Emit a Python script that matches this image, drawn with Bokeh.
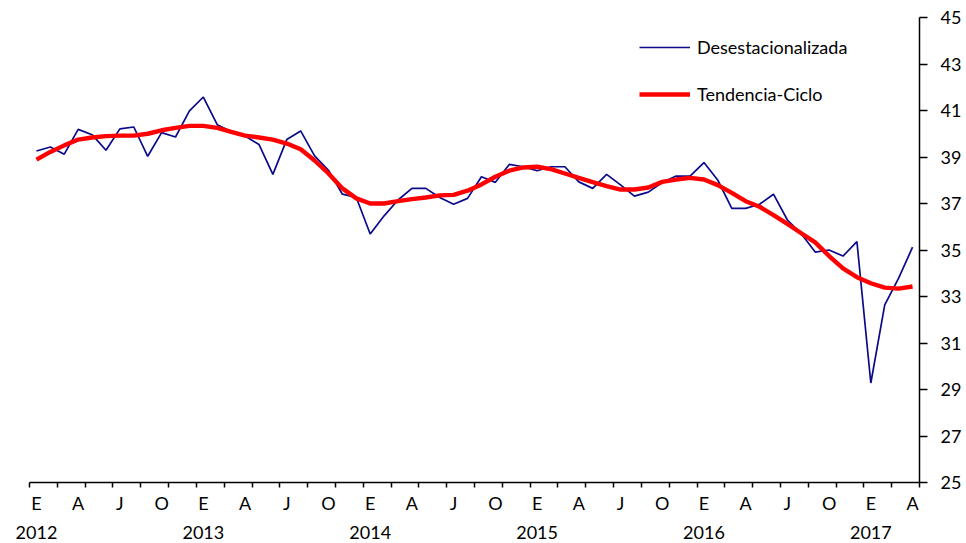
from bokeh.plotting import figure
from bokeh.models import (ColumnDataSource, Range1d, LinearAxis, FixedTicker,
                          Legend, LegendItem)
from bokeh.embed import file_html
from bokeh.resources import INLINE

# mensual, enero 2012 - abril 2017
years = [2012, 2013, 2014, 2015, 2016, 2017]
month_letters = ["E", "A", "J", "O"]

desestacionalizada = [
    39.26, 39.43, 39.12, 40.19, 39.96, 39.29, 40.21, 40.29, 39.03, 40.05, 39.86, 40.98,
    41.58, 40.39, 40.10, 39.90, 39.54, 38.25, 39.75, 40.12, 39.05, 38.43, 37.40, 37.26,
    35.69, 36.47, 37.15, 37.65, 37.65, 37.26, 36.97, 37.22, 38.15, 37.91, 38.68, 38.58,
    38.41, 38.58, 38.58, 37.93, 37.65, 38.25, 37.80, 37.32, 37.49, 37.90, 38.18, 38.18,
    38.76, 38.00, 36.79, 36.79, 36.97, 37.40, 36.29, 35.70, 34.91, 35.00, 34.74, 35.36,
    29.28, 32.64, 33.79, 35.12,
]
tendencia_ciclo = [
    38.89, 39.22, 39.50, 39.75, 39.84, 39.90, 39.92, 39.92, 40.00, 40.15, 40.25, 40.34,
    40.34, 40.25, 40.08, 39.92, 39.84, 39.75, 39.58, 39.33, 38.85, 38.29, 37.65, 37.22,
    37.00, 37.00, 37.10, 37.19, 37.26, 37.35, 37.37, 37.55, 37.82, 38.15, 38.41, 38.55,
    38.58, 38.48, 38.29, 38.10, 37.92, 37.75, 37.60, 37.60, 37.69, 37.93, 38.03, 38.10,
    38.03, 37.79, 37.46, 37.10, 36.86, 36.50, 36.12, 35.72, 35.33, 34.74, 34.21, 33.83,
    33.57, 33.38, 33.34, 33.43,
]

FONT = "Lato"
FSIZE = "18px"
n = len(desestacionalizada)
idx = list(range(n))
source = ColumnDataSource(data={"i": idx, "d": desestacionalizada, "t": tendencia_ciclo})

p = figure(width=964, height=541, output_backend="svg", toolbar_location=None,
           x_range=Range1d(-0.5, n - 0.5), y_range=Range1d(25, 45),
           x_axis_location=None, y_axis_location="right",
           min_border_left=29, min_border_right=44, min_border_top=17, min_border_bottom=58)
p.outline_line_color = None
p.xgrid.grid_line_color = None
p.ygrid.grid_line_color = None
p.background_fill_color = "white"
p.border_fill_color = "white"

r_d = p.line("i", "d", source=source, line_color="#0a0a8a", line_width=1.7)
r_t = p.line("i", "t", source=source, line_color="#ff0000", line_width=4.4)

# eje Y a la derecha
ya = p.yaxis[0]
ya.ticker = FixedTicker(ticks=list(range(25, 46, 2)))
ya.minor_tick_line_color = None
ya.major_tick_out = 8
ya.major_tick_in = 0
ya.axis_line_width = 1.5
ya.major_tick_line_width = 1.5
ya.axis_line_color = "black"
ya.major_label_text_font = FONT
ya.major_label_text_font_size = FSIZE
ya.major_label_text_color = "black"
ya.major_label_standoff = 13

# eje X: letras de mes y marcas cada dos meses
month_ticks = list(range(0, n, 3))
xa = LinearAxis(ticker=FixedTicker(ticks=month_ticks,
                                   minor_ticks=[k - 0.5 for k in range(0, n + 1, 2)]))
xa.major_label_overrides = {k: month_letters[(k // 3) % 4] for k in month_ticks}
xa.major_tick_out = 0
xa.major_tick_in = 0
xa.minor_tick_out = 5
xa.minor_tick_in = 0
xa.minor_tick_line_width = 1.5
xa.axis_line_width = 1.5
xa.major_label_standoff = 4
xa.major_label_text_font = FONT
xa.major_label_text_font_size = FSIZE
xa.major_label_text_color = "black"
p.add_layout(xa, "below")

year_ticks = [12 * k for k in range(len(years))]
ya2 = LinearAxis(ticker=FixedTicker(ticks=year_ticks, minor_ticks=[]))
ya2.major_label_overrides = {t: str(y) for t, y in zip(year_ticks, years)}
ya2.axis_line_color = None
ya2.major_tick_line_color = None
ya2.minor_tick_line_color = None
ya2.major_label_standoff = 3
ya2.major_label_text_font = FONT
ya2.major_label_text_font_size = FSIZE
ya2.major_label_text_color = "black"
p.add_layout(ya2, "below")

legend = Legend(items=[LegendItem(label="Desestacionalizada", renderers=[r_d]),
                       LegendItem(label="Tendencia-Ciclo", renderers=[r_t])],
                location=(610, 377), orientation="vertical")
legend.glyph_width = 51
legend.glyph_height = 20
legend.label_height = 20
legend.spacing = 25
legend.padding = 0
legend.margin = 0
legend.label_standoff = 7
legend.border_line_color = None
legend.background_fill_alpha = 0
legend.label_text_font = FONT
legend.label_text_font_size = FSIZE
legend.label_text_color = "black"
p.add_layout(legend)

open("out.html", "w").write(file_html(p, INLINE))
